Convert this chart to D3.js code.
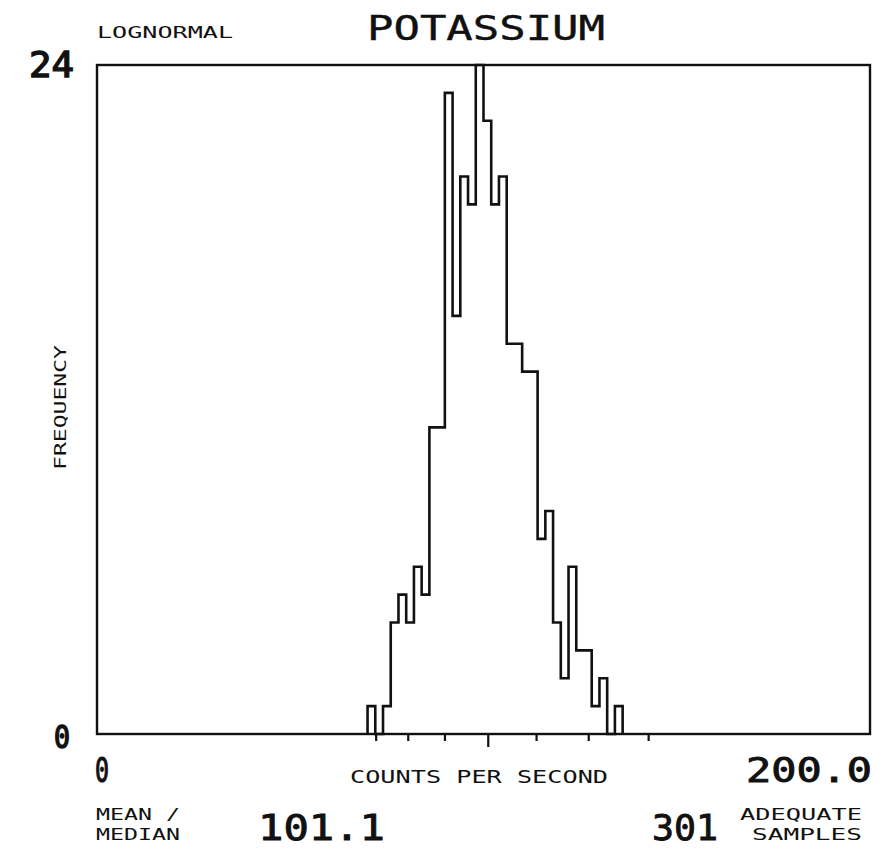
<!DOCTYPE html>
<html><head><meta charset="utf-8">
<script src="https://cdn.jsdelivr.net/npm/d3@7/dist/d3.min.js"></script>
<style>
html,body{margin:0;padding:0;background:#fff;}
svg text{font-family:"DejaVu Sans Mono","Liberation Mono",monospace;fill:#111;}
</style></head>
<body>
<svg id="chart" width="890" height="852"></svg>
<script>
// ---- data ----
const binStarts = [70,72,74,76,78,80,82,84,86,88,90,92,94,96,98,100,102,104,106,108,110,112,114,116,118,120,122,124,126,128,130,132,134];
const binCounts = [1,0,1,4,5,4,6,5,11,11,23,15,20,19,24,22,19,20,14,14,13,13,7,8,4,2,6,3,3,1,2,0,1];
const binWidth = 2;
const xDomain = [0, 200.0];
const yDomain = [0, 24];
const tickValuesX = [72.1, 80.4, 89.9, 101.1, 113.6, 127.1, 142.6];
const meanValue = 101.1;
const sampleCount = 301;

const svg = d3.select("#chart");
const L = 97, R = 870, T = 65, B = 734;
const x = d3.scaleLinear().domain(xDomain).range([L, R]);
const y = d3.scaleLinear().domain(yDomain).range([B, T]);
const ink = "#111";

// frame
svg.append("rect").attr("x", L).attr("y", T).attr("width", R - L).attr("height", B - T)
  .attr("fill", "none").attr("stroke", ink).attr("stroke-width", 2.4);

// histogram step outline
const pts = [[x(binStarts[0]), y(0)]];
binStarts.forEach((s, i) => {
  pts.push([x(s), y(binCounts[i])]);
  pts.push([x(s + binWidth), y(binCounts[i])]);
});
pts.push([x(binStarts[binStarts.length - 1] + binWidth), y(0)]);
svg.append("path").attr("d", d3.line()(pts)).attr("fill", "none")
  .attr("stroke", ink).attr("stroke-width", 2.6).attr("stroke-linejoin", "miter");

// bottom ticks (hanging below axis)
const ax = svg.append("g").attr("transform", `translate(0,${B})`)
  .call(d3.axisBottom(x).tickValues(tickValuesX).tickSize(7).tickFormat(""));
ax.select(".domain").remove();
ax.selectAll(".tick line").attr("stroke", ink).attr("stroke-width", 2.2)
  .attr("y2", d => d === meanValue ? 13 : 7);

// texts
function txt(s, xx, yy, size, len, heavy) {
  const t = svg.append("text").attr("x", xx).attr("y", yy).attr("font-size", size).text(s);
  if (len) t.attr("textLength", len).attr("lengthAdjust", "spacingAndGlyphs");
  if (heavy) t.attr("stroke", ink).attr("stroke-width", heavy);
  return t;
}
txt("LOGNORMAL", 97, 38, 15, 136);
txt("POTASSIUM", 367, 40, 33, 238, 0.4);
txt(String(yDomain[1]), 29, 77, 35, 45, 1.4);
txt(String(yDomain[0]), 54, 748, 32, 16, 1.6);
txt(String(xDomain[0]), 95, 782, 34, 14, 1.2);
txt(xDomain[1].toFixed(1), 746, 782, 34, 126, 0.9);
txt("COUNTS PER SECOND", 350, 783, 17, 258);
txt("MEAN /", 96, 820, 16, 84);
txt("MEDIAN", 96, 840, 16, 84);
txt(meanValue.toFixed(1), 258, 840, 36, 127, 0.9);
txt(String(sampleCount), 652, 840, 36, 66, 0.9);
txt("ADEQUATE", 740, 820, 16, 122);
txt("SAMPLES", 752, 840, 16, 110);
svg.append("text").attr("transform", "translate(66,470) rotate(-90)")
  .attr("font-size", 16).attr("textLength", 125).attr("lengthAdjust", "spacingAndGlyphs")
  .text("FREQUENCY");
</script>
</body></html>
